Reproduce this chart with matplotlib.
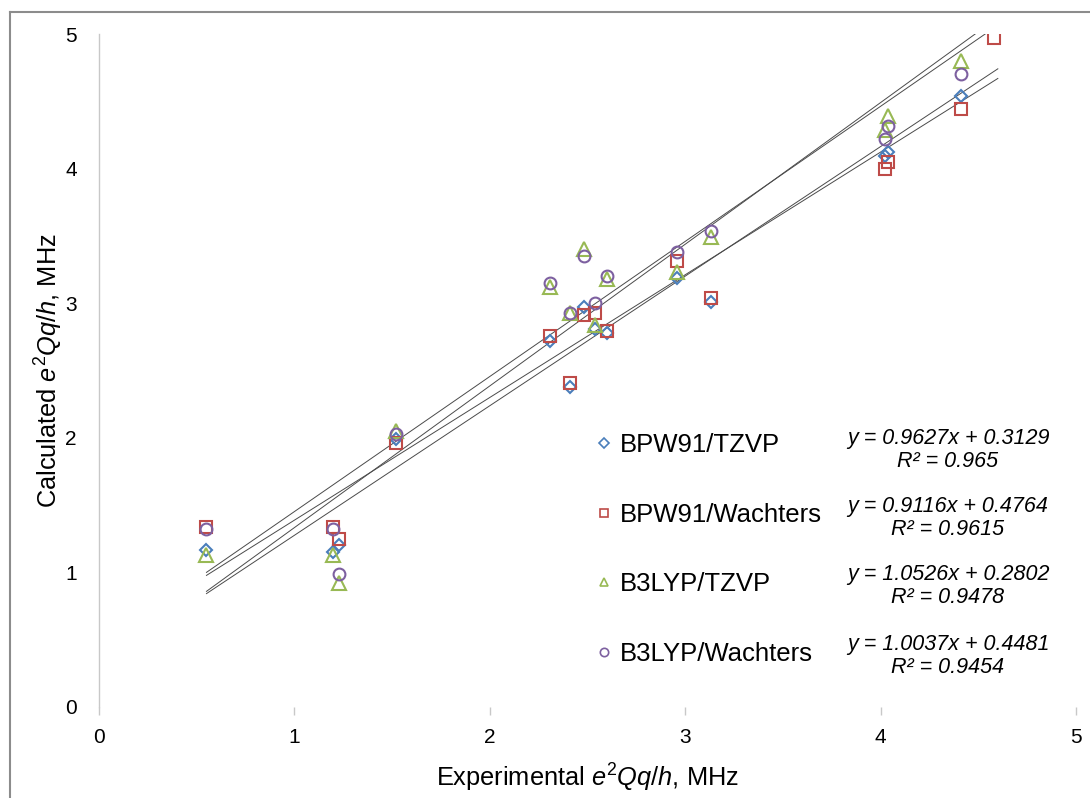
import numpy as np
import matplotlib.pyplot as plt
from matplotlib.lines import Line2D

plt.rcParams['font.family'] = ['Liberation Sans', 'DejaVu Sans']
plt.rcParams['mathtext.fontset'] = 'custom'
plt.rcParams['mathtext.rm'] = 'Liberation Sans'
plt.rcParams['mathtext.it'] = 'Liberation Sans:italic'

# experimental values (shared by all four series)
x_exp = [0.55, 1.20, 1.23, 1.52, 2.31, 2.41, 2.48, 2.54, 2.60, 2.96, 3.13, 4.02, 4.04, 4.41]

bpw91_tzvp = [1.17, 1.15, 1.20, 1.99, 2.72, 2.38, 2.97, 2.81, 2.78, 3.19, 3.01, 4.09, 4.12, 4.54]
bpw91_wach = [1.34, 1.34, 1.25, 1.96, 2.76, 2.41, 2.91, 2.93, 2.79, 3.31, 3.04, 4.00, 4.05, 4.44]
b3lyp_tzvp = [1.13, 1.13, 0.92, 2.05, 3.12, 2.93, 3.40, 2.84, 3.18, 3.23, 3.49, 4.29, 4.39, 4.80]
b3lyp_wach = [1.32, 1.32, 0.99, 2.03, 3.15, 2.93, 3.35, 3.00, 3.20, 3.38, 3.54, 4.22, 4.32, 4.70]

# extra point only visible for BPW91/Wachters
x_extra = [4.58]
bpw91_wach_extra = [4.97]

labels = ['BPW91/TZVP', 'BPW91/Wachters', 'B3LYP/TZVP', 'B3LYP/Wachters']
slopes = [0.9627, 0.9116, 1.0526, 1.0037]
intercepts = [0.3129, 0.4764, 0.2802, 0.4481]
r2 = ['0.965', '0.9615', '0.9478', '0.9454']
trend_range = [0.55, 4.6]

colors = ['#4a7ebb', '#be4b48', '#98b954', '#7d60a0']
markers = ['D', 's', '^', 'o']
msizes = [6.5, 9, 10, 8.5]

fig = plt.figure(figsize=(10.9, 7.98), dpi=100)
ax = fig.add_axes([99 / 1090, 91 / 798, 977 / 1090, 673 / 798])

# trendlines
xs = np.array(trend_range)
for m, b in zip(slopes, intercepts):
    ax.plot(xs, m * xs + b, color='#4a4a4a', lw=0.7, zorder=1)

series = [bpw91_tzvp, bpw91_wach, b3lyp_tzvp, b3lyp_wach]
for ys, c, mk, ms in zip(series, colors, markers, msizes):
    ax.plot(x_exp, ys, ls='none', marker=mk, ms=ms, mfc='none', mec=c, mew=1.5, zorder=3)
ax.plot(x_extra, bpw91_wach_extra, ls='none', marker='s', ms=9, mfc='none',
        mec=colors[1], mew=1.5, zorder=3)

ax.set_xlim(0, 5)
ax.set_ylim(0, 5)
ax.set_xticks(range(6))
ax.set_yticks(range(6))
ax.tick_params(axis='x', length=6, width=1, color='#c8c8c8', pad=9, labelsize=15)
ax.tick_params(axis='y', length=0, pad=16, labelsize=15)
for s in ['top', 'right', 'bottom']:
    ax.spines[s].set_visible(False)
ax.spines['left'].set_color('#c8c8c8')
ax.spines['left'].set_linewidth(1)

ax.set_xlabel(r'Experimental $e^2Qq/h$, MHz', fontsize=18.3)
ax.set_ylabel(r'Calculated $e^2Qq/h$, MHz', fontsize=18.3)
ax.xaxis.set_label_coords(0.5, -0.082)
ax.yaxis.set_label_coords(-0.035, 0.5)

# legend
handles = [Line2D([0], [0], ls='none', marker=mk, ms=6 if mk != 'D' else 5,
                  mfc='none', mec=c, mew=1.2)
           for mk, c in zip(markers, colors)]
ax.legend(handles, labels, loc='upper left', bbox_to_anchor=(0.508, 0.407),
          frameon=False, fontsize=18.5, handlelength=0.7, handletextpad=0.25,
          labelspacing=1.77, borderpad=0, borderaxespad=0)

# trendline equations
eq_y = [450, 518, 586, 656]
for m, b, r, yp in zip(slopes, intercepts, r2, eq_y):
    ax.text((948 - 99) / 977, (707 - yp) / 673,
            'y = %.4fx + %.4f\nR² = %s' % (m, b, r),
            transform=ax.transAxes, ha='center', va='center', fontsize=15.5,
            style='italic', linespacing=1.15)

# outer chart border
fig.add_artist(Line2D([10 / 1090, 10 / 1090], [0, 1 - 12 / 798],
                      transform=fig.transFigure, color='#8c8c8c', lw=1.5))
fig.add_artist(Line2D([10 / 1090, 1], [1 - 12 / 798, 1 - 12 / 798],
                      transform=fig.transFigure, color='#8c8c8c', lw=1.5))

fig.savefig('out.png', dpi=100)
